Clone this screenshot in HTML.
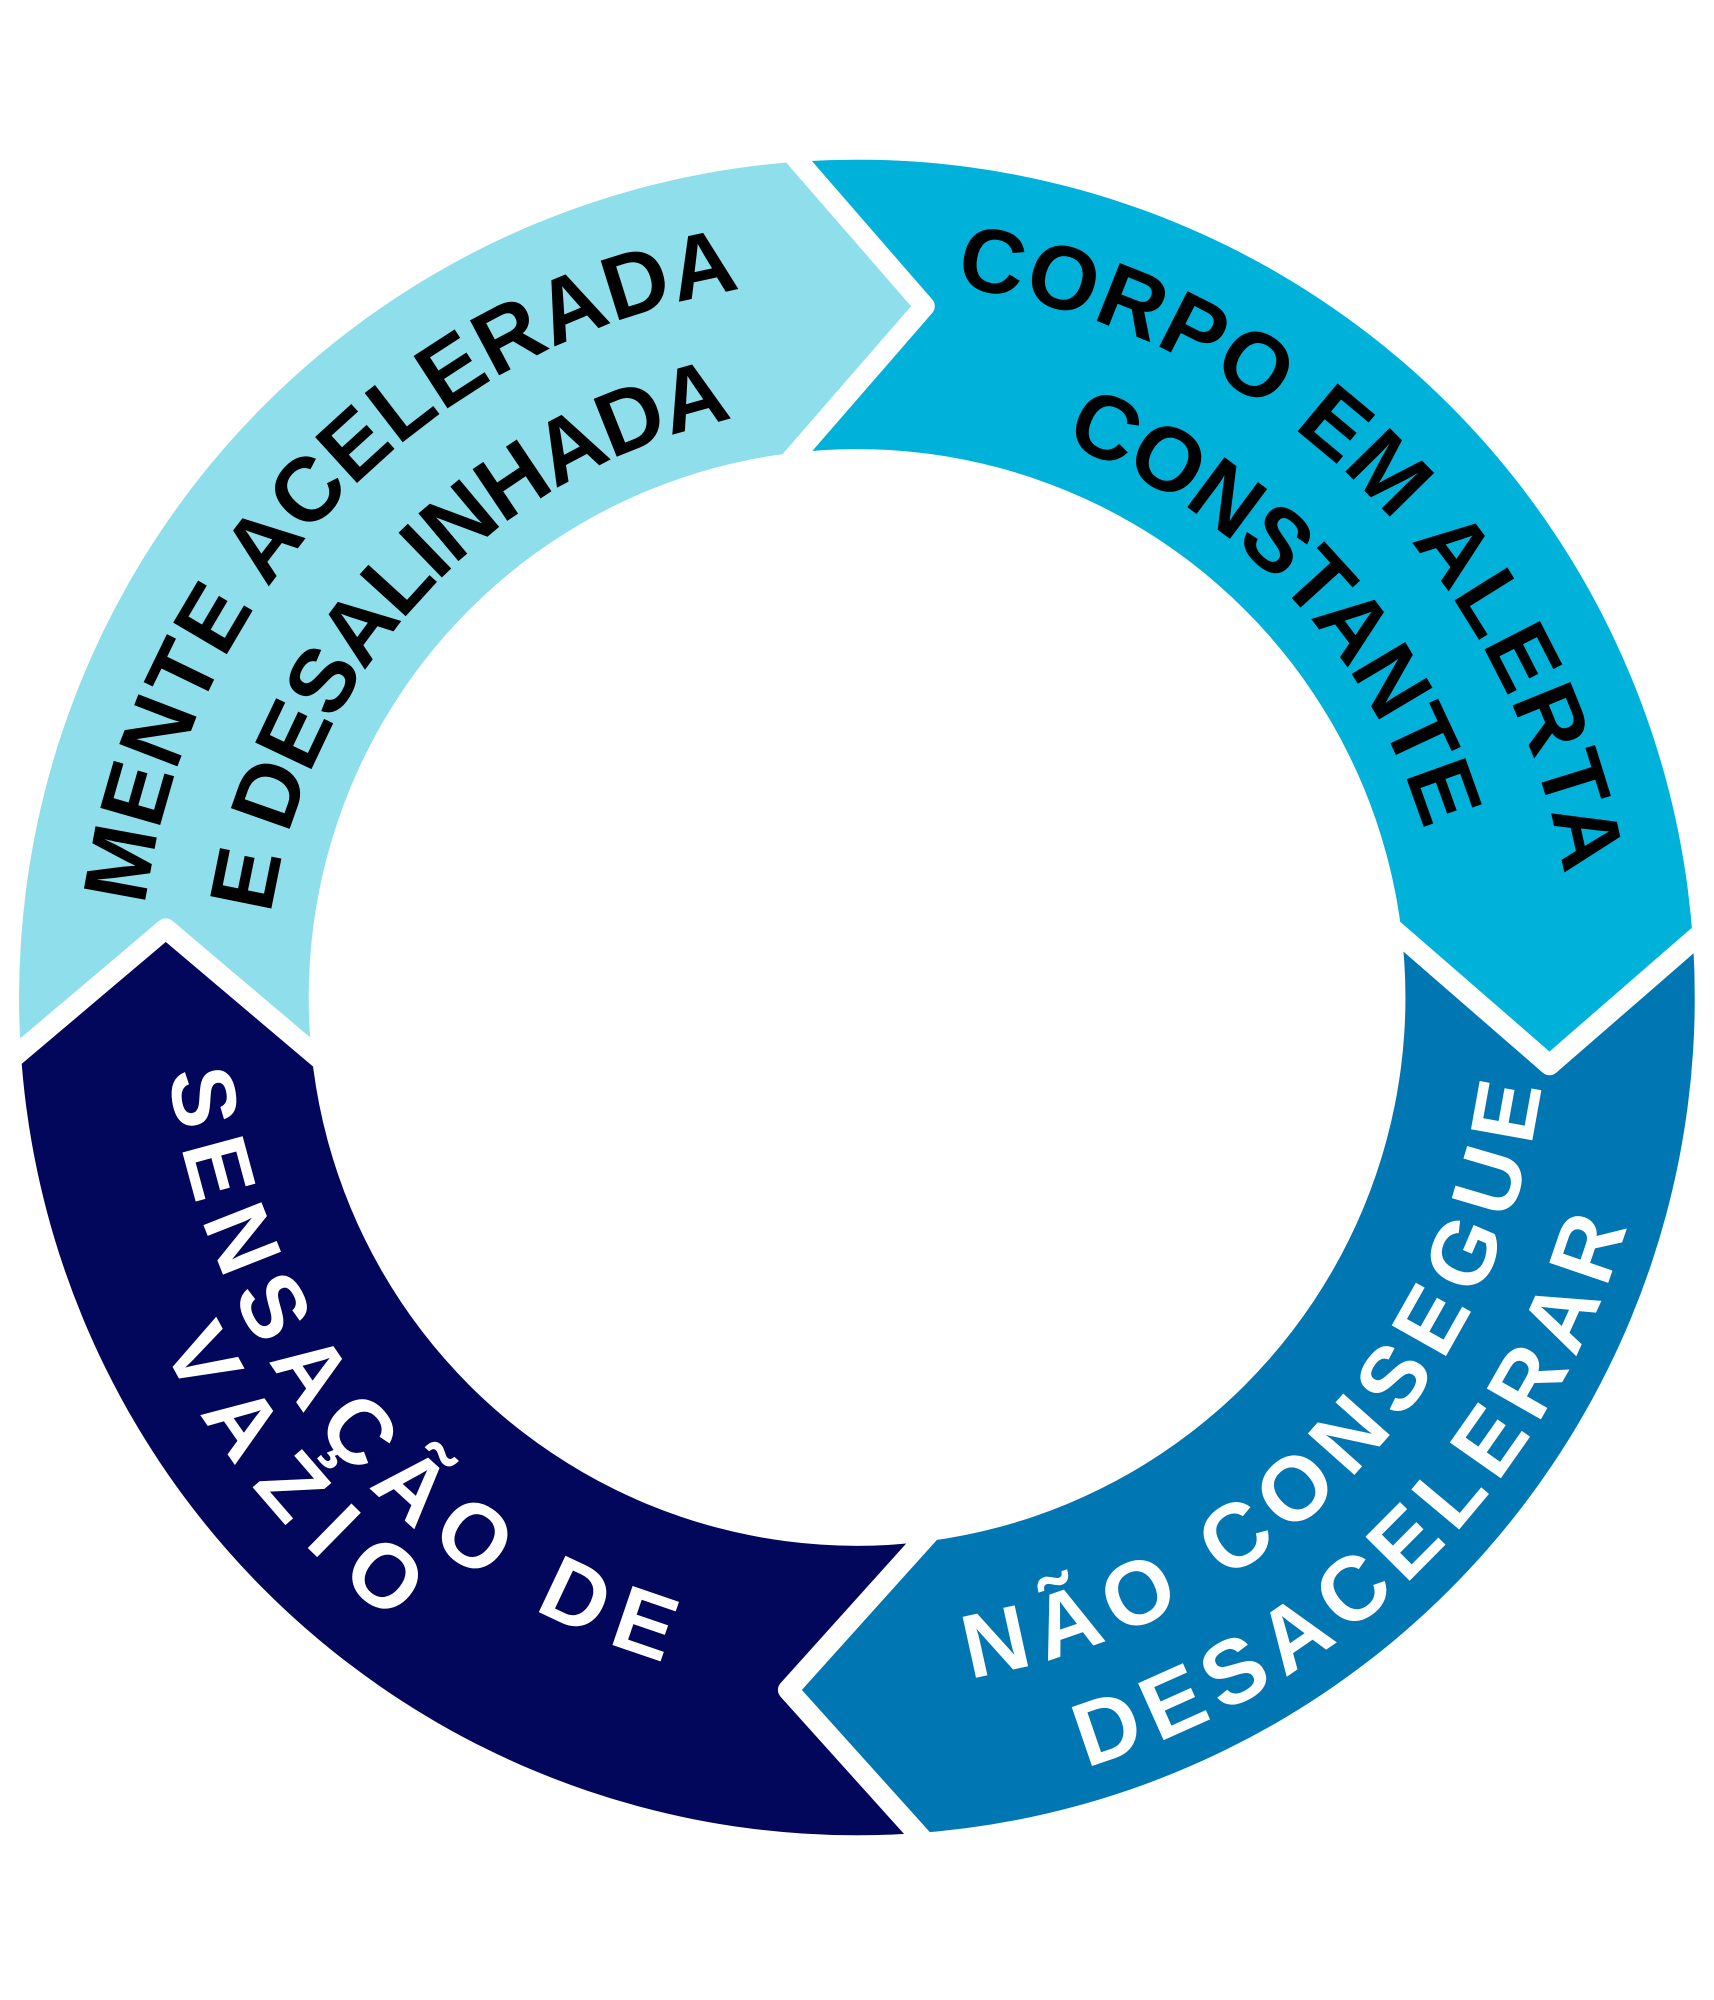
<!DOCTYPE html>
<html><head><meta charset="utf-8"><style>
html,body{margin:0;padding:0;background:#fff;overflow:hidden;width:1714px;height:2000px;}
svg{display:block;overflow:hidden;}
text{font-family:"Liberation Sans",Arial,sans-serif;font-weight:bold;font-size:71px;}
</style></head><body>
<svg width="1714" height="2000" viewBox="0 0 1344 1568" xmlns="http://www.w3.org/2000/svg">
<defs>
<clipPath id="ring"><path clip-rule="evenodd" d="M672,125 A657,657 0 1 1 671.9,125 Z M672,352 A430,430 0 1 0 672.1,352 Z"/></clipPath>
<path id="p1" d="M279.5,1188.4 A565,565 0 0 1 1064.5,375.6"/>
<path id="p2" d="M351.5,1125.7 A470,470 0 0 1 992.5,438.3"/>
<path id="p3" d="M265.6,389.5 A565,565 0 0 1 1078.4,1174.5"/>
<path id="p4" d="M351.5,438.3 A470,470 0 0 1 992.5,1125.7"/>
<path id="p5" d="M293.4,1174 A545,545 0 0 0 1050.6,390"/>
<path id="p6" d="M226.5,1227.5 A630,630 0 0 0 1117.5,336.5"/>
<path id="p7" d="M321.7,364.5 A545,545 0 0 0 1022.3,1199.5"/>
<path id="p8" d="M276.7,310.9 A615,615 0 0 0 1067.3,1253.1"/>
</defs>
<g clip-path="url(#ring)">
<polygon fill="#8fdeec" points="620,-100 620,125 728,240 620,360 672,782 245,834 130,728 15,834 -100,834 -100,-100"/>
<polygon fill="#00b2d9" points="620,-100 620,125 728,240 620,360 672,782 1100,730 1215,834 1330,730 1500,730 1500,-100"/>
<polygon fill="#0077b3" points="1500,730 1330,730 1215,834 1100,730 672,782 725,1210 620,1325 725,1440 725,1700 1500,1700"/>
<polygon fill="#02075b" points="725,1700 725,1440 620,1325 725,1210 672,782 245,834 130,728 15,834 -100,834 -100,1700"/>
</g>
<g fill="none" stroke="#fff" stroke-width="16" stroke-linejoin="round">
<polyline points="612,110 725,240 612,370"/>
<polyline points="1345,722 1215,835 1085,722"/>
<polyline points="735,1455 618,1325 735,1195"/>
<polyline points="0,838 130,728 260,838"/>
</g>
<text fill="#000"><textPath href="#p1" startOffset="50%" text-anchor="middle" textLength="720" lengthAdjust="spacing">MENTE ACELERADA</textPath></text>
<text fill="#000"><textPath href="#p2" startOffset="50%" text-anchor="middle" textLength="565" lengthAdjust="spacing">E DESALINHADA</textPath></text>
<text fill="#000"><textPath href="#p3" startOffset="50%" text-anchor="middle" textLength="710" lengthAdjust="spacing">CORPO EM ALERTA</textPath></text>
<text fill="#000"><textPath href="#p4" startOffset="50%" text-anchor="middle" textLength="430" lengthAdjust="spacing">CONSTANTE</textPath></text>
<text fill="#fff"><textPath href="#p5" startOffset="50%" text-anchor="middle" textLength="690" lengthAdjust="spacing">NÃO CONSEGUE</textPath></text>
<text fill="#fff"><textPath href="#p6" startOffset="50%" text-anchor="middle" textLength="625" lengthAdjust="spacing">DESACELERAR</textPath></text>
<text fill="#fff"><textPath href="#p7" startOffset="50%" text-anchor="middle" textLength="640" lengthAdjust="spacing">SENSAÇÃO DE</textPath></text>
<text fill="#fff"><textPath href="#p8" startOffset="50%" text-anchor="middle" textLength="285" lengthAdjust="spacing">VAZIO</textPath></text>
</svg>
</body></html>
